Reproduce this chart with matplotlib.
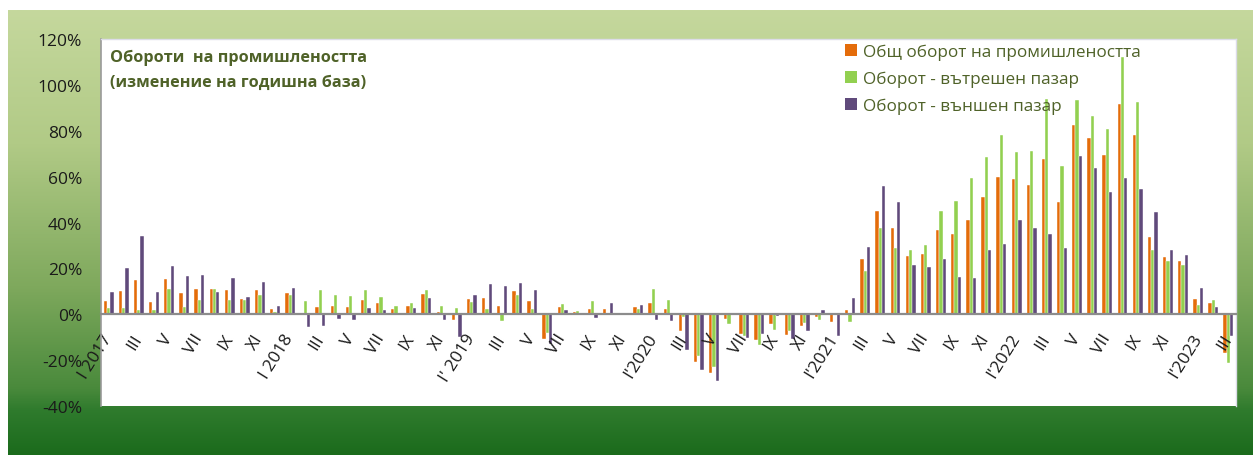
import numpy as np
import matplotlib.pyplot as plt
from matplotlib.colors import LinearSegmentedColormap
from matplotlib.patches import Patch
from matplotlib.ticker import FuncFormatter

plt.rcParams['font.family'] = ['Open Sans', 'DejaVu Sans']

# monthly values, I 2017 .. III 2023 (% change on a year earlier)
total = [5.7, 10.2, 15.1, 5.2, 15.4, 9.3, 11.2, 10.8, 10.5, 6.7, 10.5, 2.1,
         9.3, 0.0, 3.0, 3.8, 3.0, 6.4, 4.8, 2.2, 3.8, 8.7, 0.8, -2.6,
         6.5, 7.0, 3.5, 10.1, 5.7, -10.6, 3.3, 1.1, 2.1, 2.5, 0.0, 3.3,
         4.8, 2.1, -7.5, -20.8, -25.6, -2.2, -8.6, -11.3, -4.1, -9.0, -5.1, -1.2,
         -3.4, 1.7, 23.9, 44.9, 37.4, 25.3, 26.4, 36.6, 34.8, 40.9, 51.3, 59.7,
         58.8, 56.4, 67.7, 49.1, 82.3, 76.8, 69.6, 91.7, 78.3, 33.6, 24.9, 23.0,
         6.5, 4.9, -16.8]
domestic = [2.6, 2.9, 1.7, 1.7, 10.8, 3.2, 6.0, 11.2, 6.4, 6.4, 8.2, 1.0,
            8.2, 5.7, 10.6, 8.3, 7.9, 10.6, 7.5, 3.8, 4.8, 10.6, 3.8, 2.6,
            5.2, 2.3, -2.9, 8.3, 2.2, -8.3, 4.4, 1.6, 5.6, 0.7, 0.0, 2.5,
            11.2, 6.3, -1.3, -18.2, -23.1, -4.1, -9.3, -13.5, -6.9, -7.5, -3.7, -2.5,
            0.0, -3.3, 18.8, 37.7, 29.1, 27.8, 30.1, 45.2, 49.5, 59.6, 68.7, 78.1,
            70.6, 71.3, 93.8, 64.6, 93.3, 86.5, 80.6, 112.0, 92.6, 28.0, 23.0, 21.4,
            3.9, 6.1, -21.4]
foreign = [9.9, 20.0, 34.3, 9.9, 21.1, 16.5, 17.3, 9.9, 15.8, 7.4, 13.9, 3.7,
           11.6, -5.5, -5.1, -1.9, -2.3, 2.6, 1.8, 0.0, 2.9, 7.2, -2.6, -10.1,
           8.3, 13.2, 12.2, 13.5, 10.6, -13.0, 1.8, 0.0, -1.5, 4.8, 0.0, 4.1,
           -2.7, -3.0, -15.5, -24.2, -29.0, 0.0, -10.2, -8.6, -0.8, -11.0, -7.5, 1.8,
           -9.5, 7.2, 29.5, 56.0, 49.1, 21.5, 20.8, 24.2, 16.2, 15.9, 28.0, 30.6,
           40.9, 37.4, 34.8, 29.1, 69.1, 63.9, 53.3, 59.3, 54.8, 44.6, 28.0, 25.7,
           11.4, 3.0, -9.6]

tick_labels = ['I 2017', 'III', 'V', 'VII', 'IX', 'XI',
               'I 2018', 'III', 'V', 'VII', 'IX', 'XI',
               "I' 2019", 'III', 'V', 'VII', 'IX', 'XI',
               "I'2020", 'III', 'V', 'VII', 'IX', 'XI',
               "I'2021", 'III', 'V', 'VII', 'IX', 'XI',
               "I'2022", 'III', 'V', 'VII', 'IX', 'XI',
               "I'2023", 'III']
series_names = ['Общ оборот на промишлеността',
                'Оборот - вътрешен пазар',
                'Оборот - външен пазар']
colors = ['#e46c0a', '#92d050', '#604a7b']

W, H = 1253, 456
fig = plt.figure(figsize=(W / 100, H / 100), dpi=100)
fig.patch.set_facecolor('white')

# green gradient behind the chart
cmap = LinearSegmentedColormap.from_list('bg', [
    (0.0, '#c5d89d'), (0.3, '#b1ca86'), (0.62, '#7fa95d'),
    (0.85, '#4a8a3c'), (0.9, '#2f7b2d'), (1.0, '#1b6b1c')])
bg = fig.add_axes([8 / W, 0, 1 - 8 / W, 445 / H], zorder=-10)
bg.imshow(np.linspace(0, 1, 256).reshape(-1, 1), aspect='auto', cmap=cmap,
          extent=[0, 1, 0, 1])
bg.axis('off')

ax = fig.add_axes([101 / W, 49 / H, 1135 / W, 367 / H])
ax.set_facecolor('white')

x = np.arange(len(total))
w = 0.22
for off, vals, c in zip([-w, 0, w], [total, domestic, foreign], colors):
    ax.bar(x + off, vals, w, color=c, edgecolor='white', linewidth=0.3)

ax.set_xlim(-0.5, len(total) - 0.5)
ax.set_ylim(-40, 120)
ax.set_yticks(range(-40, 121, 20))
ax.yaxis.set_major_formatter(FuncFormatter(lambda v, p: f'{v:.0f}%'))
ax.tick_params(axis='y', length=0, pad=13.5, labelsize=12.5, labelcolor='#1a1a1a')

ax.spines['bottom'].set_position(('data', 0))
ax.spines['bottom'].set_color('#8c8c8c')
ax.spines['bottom'].set_linewidth(1.6)
ax.spines['left'].set_color('#9a9a9a')
ax.spines['left'].set_linewidth(1.2)
for s in ['top', 'right']:
    ax.spines[s].set_color('#dcdce8')
    ax.spines[s].set_linewidth(1)

ax.set_xticks(x[::2])
ax.set_xticklabels(tick_labels, rotation=58, ha='right', va='center',
                   rotation_mode='anchor', fontsize=12.5, color='#1a1a1a')
ax.tick_params(axis='x', length=0, pad=15)

ax.text(0.008, 0.972, 'Обороти  на промишлеността\n(изменение на годишна база)',
        transform=ax.transAxes, ha='left', va='top', fontsize=11.7,
        fontweight='bold', color='#4f6228', linespacing=1.7)

handles = [Patch(facecolor=c) for c in colors]
ax.legend(handles, series_names, loc='upper left',
          bbox_to_anchor=(845 / W, (H - 45) / H), bbox_transform=fig.transFigure,
          frameon=False, fontsize=12.3, handlelength=0.7, handleheight=0.7,
          handletextpad=0.35, labelspacing=0.62, borderpad=0, borderaxespad=0,
          labelcolor='#4f6228')

fig.savefig('out.png', dpi=100)
